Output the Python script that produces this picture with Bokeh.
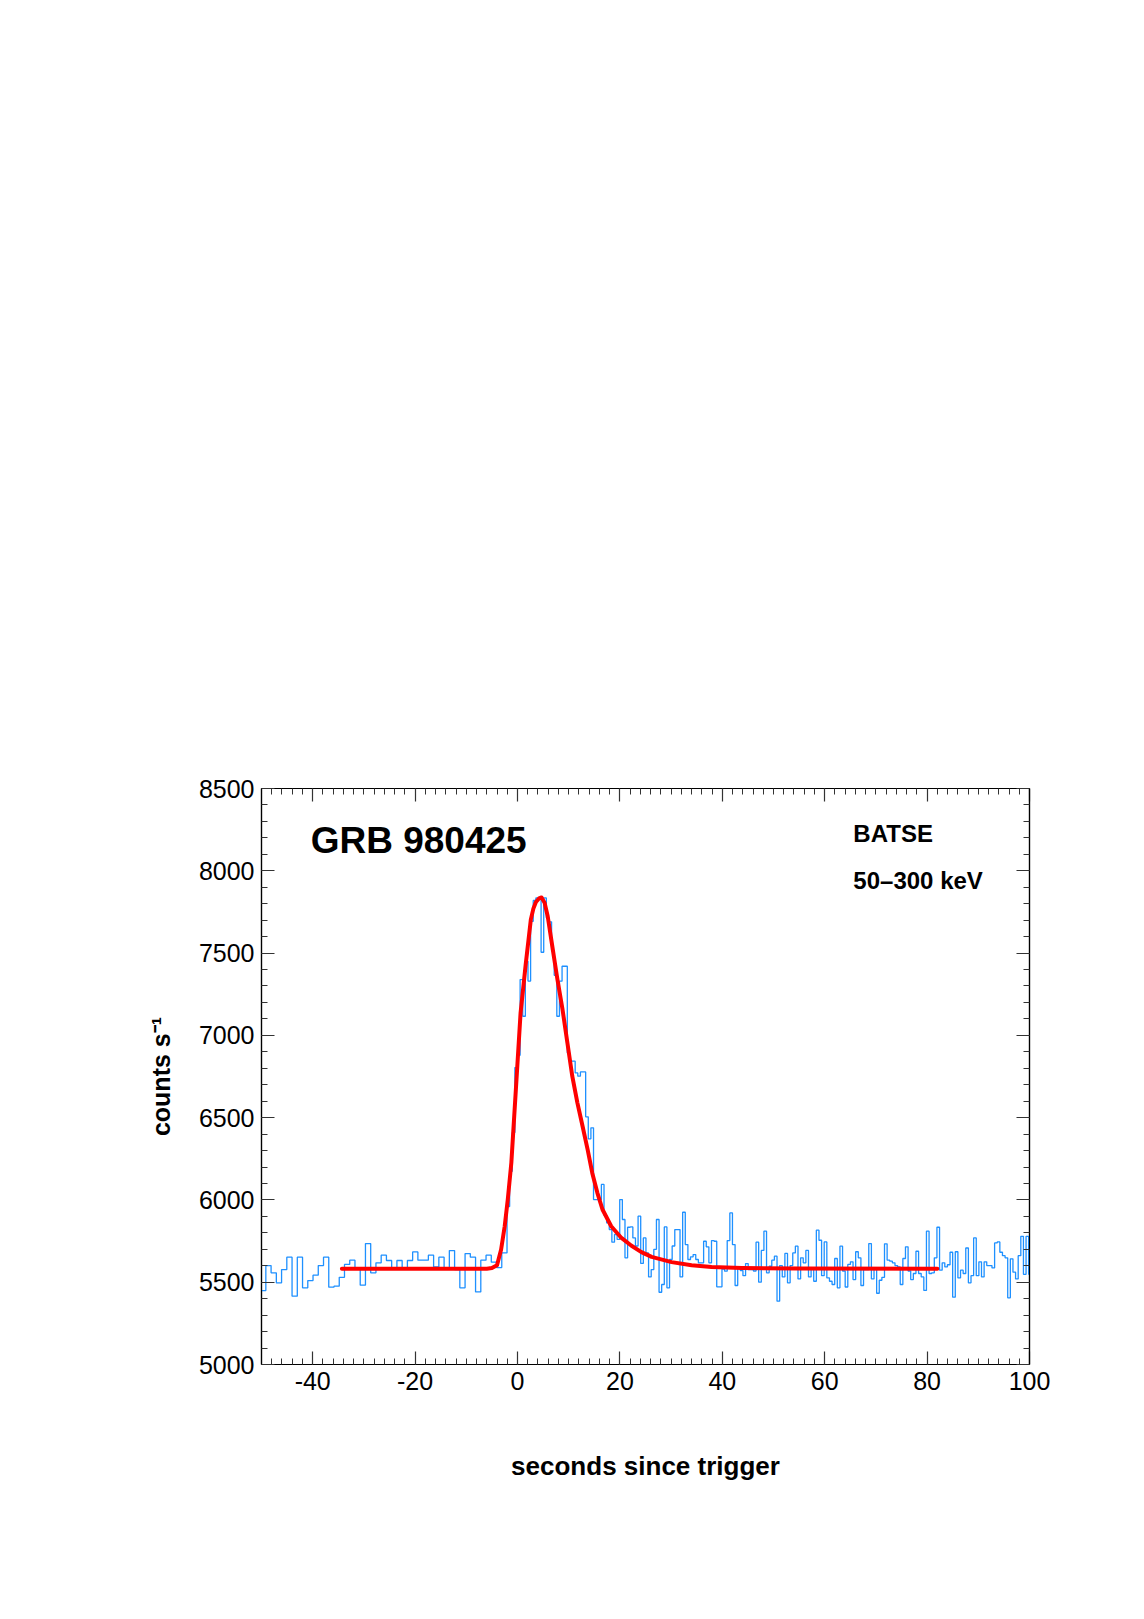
import numpy as np
from bokeh.plotting import figure
from bokeh.models import Range1d, LinearAxis, FixedTicker, Label
from bokeh.embed import file_html
from bokeh.resources import INLINE

# ---- data ----
# pre-trigger bins (1.024 s), starting at -50.176 s
pre_start = -50.176
pre_width = 1.024
pre_rates = [5449, 5601, 5557, 5496, 5577, 5652, 5415, 5652, 5466, 5510, 5543, 5601,
             5652, 5470, 5476, 5530, 5608, 5634, 5587, 5482, 5735, 5557, 5618, 5664,
             5632, 5587, 5632, 5589, 5632, 5684, 5634, 5634, 5664, 5593, 5652, 5589,
             5692, 5577, 5466, 5674, 5652, 5441, 5634, 5664, 5622, 5589, 5678]
# post bins (0.512 s), starting at -2.048 s
post_start = -2.048
post_width = 0.512
post_rates = [
    5960, 6174, 6409, 6804, 6879, 7339, 7116, 7450, 7330, 7693, 7820, 7835, 7835,
    7505, 7835, 7714, 7690, 7515, 7365, 7116, 7329, 7420, 7420, 6893, 6843, 6843,
    6772, 6752, 6778, 6778, 6505, 6371, 6438, 6002, 6002, 6002, 6094,
    5907, 5860, 5820, 5743, 5790, 5760, 6002, 5881, 5648, 5834, 5836, 5769, 5720,
    5901, 5614, 5769, 5678, 5532, 5577, 5700, 5881, 5439, 5486, 5836, 5466, 5638,
    5720, 5820, 5820, 5532, 5925, 5729, 5638, 5654, 5668, 5638, 5618, 5618, 5749,
    5715, 5618, 5753, 5749, 5472, 5472, 5580, 5567, 5753, 5921, 5729, 5480, 5594,
    5571, 5540, 5613, 5577, 5577, 5568, 5743, 5500, 5693, 5810, 5557, 5597, 5634,
    5658, 5385, 5601, 5532, 5675, 5496, 5601, 5678, 5719, 5520, 5648, 5618, 5693,
    5532, 5587, 5506, 5816, 5755, 5540, 5745, 5526, 5506, 5486, 5644, 5466, 5719,
    5568, 5471, 5608, 5624, 5516, 5685, 5648, 5480, 5577, 5577, 5735, 5520, 5580,
    5433, 5512, 5530,
    5733, 5634, 5628, 5618, 5601, 5593, 5486, 5644, 5715, 5568, 5516, 5553, 5688,
    5553, 5532, 5450, 5810, 5553, 5557, 5648, 5834, 5573, 5618, 5593, 5606, 5682,
    5409, 5685, 5526, 5573, 5553, 5708, 5496, 5540, 5769, 5540, 5624, 5532, 5624,
    5601, 5601, 5587, 5739, 5745, 5682, 5661, 5648, 5405, 5642, 5561, 5520, 5661,
    5779, 5548, 5779, 5548]

# fitted pulse (red)
fit_t = [-34.3, -6.0, -5.0, -4.0, -3.2, -2.5, -1.9, -1.2, -0.2, 0.6, 1.6, 2.6, 3.1, 3.6,
         4.2, 4.7, 5.3, 5.9, 6.8, 7.8, 8.8, 9.75, 10.7, 11.7, 12.7, 13.7, 14.6, 15.6,
         16.6, 18.3, 20.3, 22.2, 24.2, 26.2, 30.1, 34.0, 37.9, 43.8, 55.0, 82.0]
fit_v = [5582, 5582, 5586, 5603, 5699, 5840, 6002, 6227, 6731, 7136, 7431, 7703, 7770, 7810,
         7832, 7838, 7805, 7724, 7541, 7339, 7156, 6954, 6752, 6590, 6449, 6306, 6164,
         6043, 5942, 5840, 5769, 5723, 5683, 5654, 5622, 5603, 5593, 5587, 5583, 5582]

x_ticks = [-40, -20, 0, 20, 40, 60, 80, 100]
y_ticks = [5000, 5500, 6000, 6500, 7000, 7500, 8000, 8500]

# ---- build step edges ----
pre_edges = pre_start + pre_width * np.arange(len(pre_rates) + 1)
post_edges = post_start + post_width * np.arange(len(post_rates) + 1)
edges = np.concatenate([pre_edges[:-1], post_edges])
rates = list(pre_rates) + list(post_rates)
step_y = rates + [rates[-1]]

p = figure(width=1128, height=1600, x_range=Range1d(-50, 100), y_range=Range1d(5000, 8500),
           output_backend="svg", toolbar_location=None,
           min_border_left=261, min_border_right=99, min_border_top=788, min_border_bottom=236)
p.xgrid.visible = False
p.ygrid.visible = False
p.outline_line_color = "black"
p.outline_line_width = 1.2
p.background_fill_color = "white"
p.border_fill_color = "white"

xminor = list(range(-50, 101, 2))
yminor = list(range(5000, 8501, 100))

def style_axis(ax, ticks, minor, show_labels):
    ax.ticker = FixedTicker(ticks=ticks, minor_ticks=minor)
    ax.axis_line_color = "black"
    ax.axis_line_width = 1.2
    ax.major_tick_in = 13
    ax.major_tick_out = 0
    ax.minor_tick_in = 6
    ax.minor_tick_out = 0
    ax.major_tick_line_color = "#333333"
    ax.minor_tick_line_color = "#333333"
    ax.major_tick_line_width = 1.2
    ax.minor_tick_line_width = 1
    ax.major_label_text_font = "Liberation Sans"
    ax.major_label_text_font_size = "25px"
    ax.major_label_text_color = "black" if show_labels else None
    ax.major_label_standoff = 7

xa = p.xaxis[0]
ya = p.yaxis[0]
style_axis(xa, x_ticks, xminor, True)
style_axis(ya, y_ticks, yminor, True)
xa.major_label_overrides = {t: str(t) for t in x_ticks}

xa.axis_label = "seconds since trigger"
xa.axis_label_text_font = "Liberation Sans"
xa.axis_label_text_font_size = "26px"
xa.axis_label_text_font_style = "bold"
xa.axis_label_text_color = "black"
xa.axis_label_standoff = 58

ya.axis_label = "counts s\u207b\u00b9"
ya.axis_label_text_font = "Liberation Sans"
ya.axis_label_text_font_size = "25px"
ya.axis_label_text_font_style = "bold"
ya.axis_label_text_color = "black"
ya.axis_label_standoff = 21

top = LinearAxis()
right = LinearAxis()
p.add_layout(top, "above")
p.add_layout(right, "right")
style_axis(top, x_ticks, xminor, False)
style_axis(right, y_ticks, yminor, False)
top.major_label_text_font_size = "0px"
right.major_label_text_font_size = "0px"

p.step(edges, step_y, mode="after", line_color="#1E90FF", line_width=1.3)
p.line(fit_t, fit_v, line_color="#FF0000", line_width=4, line_join="round", line_cap="round")

def lab(x, y, text, size):
    p.add_layout(Label(x=x, y=y, text=text, text_font="Liberation Sans",
                       text_font_size=size, text_font_style="bold", text_color="black"))

lab(-40.4, 8060, "GRB 980425", "37px")
lab(65.6, 8143, "BATSE", "24px")
lab(65.6, 7858, "50\u2013300 keV", "24px")

open("out.html", "w").write(file_html(p, INLINE))
